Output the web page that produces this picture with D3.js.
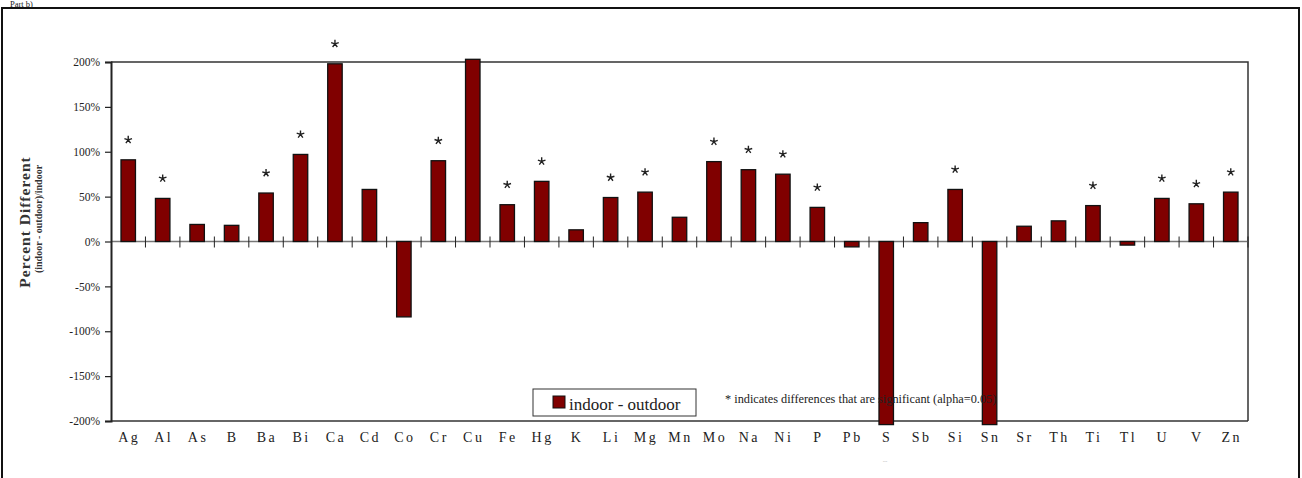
<!DOCTYPE html>
<html>
<head>
<meta charset="utf-8">
<script src="https://cdn.jsdelivr.net/npm/d3@7"></script>
<style>
  html, body { margin: 0; padding: 0; background: #fff; }
  svg { display: block; font-family: "Liberation Serif", "Times New Roman", serif; }
</style>
</head>
<body>
<svg id="chart" width="1302" height="478"></svg>
<script>
// === DATA ===
const elements = ['Ag','Al','As','B','Ba','Bi','Ca','Cd','Co','Cr','Cu','Fe','Hg','K','Li','Mg','Mn','Mo','Na','Ni','P','Pb','S','Sb','Si','Sn','Sr','Th','Ti','Tl','U','V','Zn']
const pctDiff = [91,48,19,18,54,97,198,58,-84,90,203,41,67,13,49,55,27,89,80,75,38,-6,-204,21,58,-204,17,23,40,-4,48,42,55]
const significant = ['Ag','Al','Ba','Bi','Ca','Cr','Fe','Hg','Li','Mg','Mo','Na','Ni','P','Si','Ti','U','V','Zn']
const yTicks = [-200,-150,-100,-50,0,50,100,150,200]

// === LAYOUT ===
const svg = d3.select('#chart')
const m = { left: 111, right: 1248, top: 62, bottom: 421 }
const barColor = '#800000'

const x = d3.scaleBand().domain(elements).range([m.left, m.right]).paddingInner(0).paddingOuter(0)
const y = d3.scaleLinear().domain([-200, 200]).range([m.bottom, m.top])

// outer frame
svg.append('rect')
  .attr('x', 2).attr('y', 8).attr('width', 1297).attr('height', 480)
  .attr('fill', 'none').attr('stroke', '#111').attr('stroke-width', 2)

svg.append('text')
  .attr('x', 10).attr('y', 7)
  .attr('font-size', 8.5).attr('fill', '#222')
  .text('Part b)')

// plot frame (top + right)
svg.append('path')
  .attr('d', `M${m.left},${m.top}H${m.right}V${m.bottom}`)
  .attr('fill', 'none').attr('stroke', '#333').attr('stroke-width', 1.5)

// bottom line
svg.append('line')
  .attr('x1', m.left).attr('x2', m.right).attr('y1', m.bottom).attr('y2', m.bottom)
  .attr('stroke', '#333').attr('stroke-width', 1.5)

// zero line
svg.append('line')
  .attr('x1', m.left).attr('x2', m.right).attr('y1', y(0)).attr('y2', y(0))
  .attr('stroke', '#777').attr('stroke-width', 1.5)

// bars
svg.append('g').selectAll('rect')
  .data(elements)
  .join('rect')
  .attr('x', d => x(d) + x.bandwidth() * 0.29)
  .attr('width', x.bandwidth() * 0.42)
  .attr('y', (d, i) => y(Math.max(0, pctDiff[i])))
  .attr('height', (d, i) => Math.abs(y(pctDiff[i]) - y(0)))
  .attr('fill', barColor)
  .attr('stroke', '#111').attr('stroke-width', 1.3)

// category ticks across the zero line
svg.append('g').selectAll('line')
  .data(elements.slice(1).concat(['end']))
  .join('line')
  .attr('x1', d => d === 'end' ? m.right : x(d))
  .attr('x2', d => d === 'end' ? m.right : x(d))
  .attr('y1', y(0) - 5).attr('y2', y(0) + 6)
  .attr('stroke', '#222').attr('stroke-width', 1)

// significance stars: drawn as a small asterisk symbol
const asterisk = {
  draw(ctx, size) {
    const r = Math.sqrt(size) / 2
    for (let k = 0; k < 5; k++) {
      const a = -Math.PI / 2 + k * 2 * Math.PI / 5
      ctx.moveTo(0, 0)
      ctx.lineTo(r * Math.cos(a), r * Math.sin(a))
    }
  }
}
svg.append('g').selectAll('path')
  .data(elements.filter(d => significant.includes(d)))
  .join('path')
  .attr('transform', d => `translate(${x(d) + x.bandwidth() / 2},${y(pctDiff[elements.indexOf(d)]) - 20})`)
  .attr('d', d3.symbol(asterisk, 64))
  .attr('fill', 'none').attr('stroke', '#222').attr('stroke-width', 1.4)

// y axis
const yAxis = svg.append('g')
  .attr('transform', `translate(${m.left},0)`)
  .call(d3.axisLeft(y).tickValues(yTicks).tickSize(6).tickPadding(5).tickFormat(d => d + '%'))
yAxis.select('.domain').attr('stroke', '#222').attr('stroke-width', 2)
yAxis.selectAll('.tick line').attr('stroke', '#222').attr('stroke-width', 1.2)
yAxis.selectAll('.tick text')
  .attr('font-family', '"Liberation Serif", serif')
  .attr('font-size', 11.5).attr('fill', '#222')

// category labels
svg.append('g').selectAll('text')
  .data(elements)
  .join('text')
  .attr('x', d => x(d) + x.bandwidth() / 2 + 1)
  .attr('y', 442)
  .attr('text-anchor', 'middle')
  .attr('font-size', 14).attr('letter-spacing', 2.5).attr('fill', '#222')
  .text(d => d)

svg.append('text')
  .attr('x', 885).attr('y', 463)
  .attr('text-anchor', 'middle')
  .attr('font-size', 7).attr('fill', '#bbb')
  .text('--')

// y title
svg.append('text')
  .attr('transform', 'translate(30,222) rotate(-90)')
  .attr('text-anchor', 'middle')
  .attr('font-size', 15.5).attr('font-weight', 'bold').attr('letter-spacing', 1).attr('fill', '#333')
  .text('Percent Different')
svg.append('text')
  .attr('transform', 'translate(42,219) rotate(-90)')
  .attr('text-anchor', 'middle')
  .attr('font-size', 10).attr('font-weight', 'bold').attr('fill', '#333')
  .text('(indoor - outdoor)/indoor')

// legend
const lg = svg.append('g')
lg.append('rect')
  .attr('x', 533).attr('y', 389).attr('width', 163).attr('height', 27)
  .attr('fill', '#fff').attr('stroke', '#333').attr('stroke-width', 1)
lg.append('rect')
  .attr('x', 553).attr('y', 396).attr('width', 12).attr('height', 12)
  .attr('fill', barColor).attr('stroke', '#111').attr('stroke-width', 1)
lg.append('text')
  .attr('x', 569).attr('y', 410)
  .attr('font-size', 17).attr('fill', '#222')
  .text('indoor - outdoor')

svg.append('text')
  .attr('x', 725).attr('y', 403)
  .attr('font-size', 12.3).attr('fill', '#222')
  .text('* indicates differences that are significant (alpha=0.05)')
</script>
</body>
</html>
